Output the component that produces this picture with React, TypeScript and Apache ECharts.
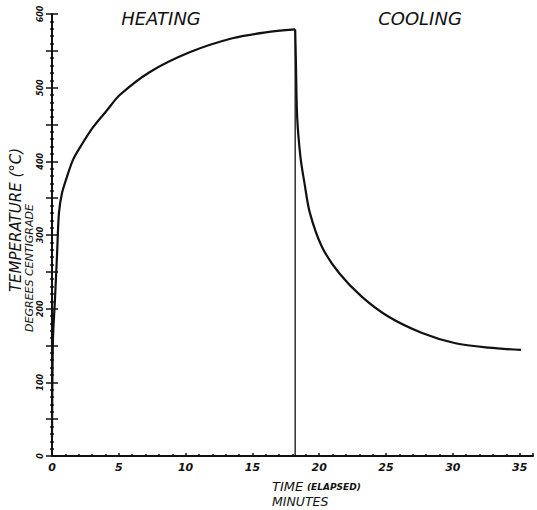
import React, { useEffect, useRef } from "react";
import * as echarts from "echarts";

// Elapsed time (minutes) and temperature (°C)
const heatingTime = [0, 0.07, 0.22, 0.37, 0.52, 0.75, 1.12, 1.57, 2.1, 3.06, 4.1, 5.07, 7.3, 10.3, 13.5, 16, 18.2];
const heatingTemp = [25, 157, 212, 270, 330, 357, 379, 402, 419, 446, 469, 490, 521, 548, 567, 575, 579];
const coolingTime = [18.2, 18.25, 18.35, 18.6, 18.9, 19.3, 20.2, 21.5, 23.2, 25.2, 27.7, 30.2, 32.7, 35.1];
const coolingTemp = [579, 540, 460, 405, 370, 330, 284, 248, 216, 189, 167, 153, 147, 144];
const switchTime = 18.2;
const switchTemp = 579;
const xTickLabels = [0, 5, 10, 15, 20, 25, 30, 35];
const yTickLabels = [0, 100, 200, 300, 400, 500, 600];

const FONT = "DejaVu Sans";
const INK = "#111111";

export default function App() {
  const ref = useRef<HTMLDivElement>(null);
  useEffect(() => {
    if (!ref.current) return;
    const chart = echarts.init(ref.current, undefined, { renderer: "svg" });
    const heat = heatingTime.map((t, i) => [t, heatingTemp[i]]);
    const cool = coolingTime.map((t, i) => [t, coolingTemp[i]]);
    const yBase = {
      type: "value" as const,
      min: 0,
      max: 600,
      interval: 50,
      splitLine: { show: false },
      position: "left" as const,
    };
    chart.setOption({
      animation: false,
      backgroundColor: "#ffffff",
      grid: { left: 52, right: 4, top: 14, bottom: 54 },
      xAxis: {
        type: "value",
        min: 0,
        max: 36,
        interval: 5,
        splitLine: { show: false },
        axisLine: { lineStyle: { color: INK, width: 2 } },
        axisTick: { show: true, inside: true, length: 3, lineStyle: { color: INK, width: 1.5 } },
        minorTick: { show: true, splitNumber: 5, length: 2, lineStyle: { color: INK, width: 1.5 } },
        axisLabel: {
          margin: 6,
          color: INK,
          fontFamily: FONT,
          fontStyle: "italic",
          fontWeight: "bold",
          fontSize: 11,
          formatter: (v: number) => (xTickLabels.includes(v) ? String(v) : ""),
        },
      },
      yAxis: [
        {
          ...yBase,
          axisLine: { show: true, lineStyle: { color: INK, width: 2 } },
          axisTick: { show: true, length: 6, lineStyle: { color: INK, width: 1.5 } },
          minorTick: { show: true, splitNumber: 5, length: 2, lineStyle: { color: INK, width: 1.5 } },
          axisLabel: {
            rotate: 90,
            margin: 8,
            color: INK,
            fontFamily: FONT,
            fontStyle: "italic",
            fontWeight: "bold",
            fontSize: 8,
            formatter: (v: number) => (yTickLabels.includes(v) ? String(v) : ""),
          },
        },
        {
          ...yBase,
          axisLine: { show: false },
          axisTick: { show: true, inside: true, length: 6, lineStyle: { color: INK, width: 1.5 } },
          minorTick: { show: true, splitNumber: 5, length: 2, lineStyle: { color: INK, width: 1.5 } },
          axisLabel: { show: false },
        },
      ],
      series: [
        {
          type: "line",
          data: heat,
          smooth: 0.3,
          showSymbol: false,
          lineStyle: { color: INK, width: 2.2 },
        },
        {
          type: "line",
          data: cool,
          smooth: 0.3,
          showSymbol: false,
          lineStyle: { color: INK, width: 2.2 },
        },
        {
          type: "line",
          data: [
            [switchTime, 0],
            [switchTime, switchTemp],
          ],
          showSymbol: false,
          lineStyle: { color: INK, width: 1.3 },
        },
      ],
      graphic: [
        {
          type: "text",
          x: 161,
          y: 18,
          style: {
            text: "HEATING",
            font: `italic 18px "${FONT}"`,
            fill: INK,
            align: "center",
            verticalAlign: "middle",
          },
        },
        {
          type: "text",
          x: 420,
          y: 18,
          style: {
            text: "COOLING",
            font: `italic 18px "${FONT}"`,
            fill: INK,
            align: "center",
            verticalAlign: "middle",
          },
        },
        {
          type: "text",
          x: 272,
          y: 486,
          style: {
            text: "TIME",
            font: `italic 13px "${FONT}"`,
            fill: INK,
            align: "left",
            verticalAlign: "middle",
          },
        },
        {
          type: "text",
          x: 307,
          y: 487,
          style: {
            text: "(ELAPSED)",
            font: `italic bold 9px "${FONT}"`,
            fill: INK,
            align: "left",
            verticalAlign: "middle",
          },
        },
        {
          type: "text",
          x: 272,
          y: 501,
          style: {
            text: "MINUTES",
            font: `italic 12.5px "${FONT}"`,
            fill: INK,
            align: "left",
            verticalAlign: "middle",
          },
        },
        {
          type: "text",
          x: 16,
          y: 220,
          rotation: Math.PI / 2,
          style: {
            text: "TEMPERATURE (°C)",
            font: `italic 15px "${FONT}"`,
            fill: INK,
            align: "center",
            verticalAlign: "middle",
          },
        },
        {
          type: "text",
          x: 29,
          y: 268,
          rotation: Math.PI / 2,
          style: {
            text: "DEGREES CENTIGRADE",
            font: `italic 11px "${FONT}"`,
            fill: INK,
            align: "center",
            verticalAlign: "middle",
          },
        },
      ],
    });
    return () => chart.dispose();
  }, []);
  return (
    <div
      ref={ref}
      style={{ position: "fixed", left: 0, top: 0, width: 537, height: 510, background: "#fff" }}
    />
  );
}
